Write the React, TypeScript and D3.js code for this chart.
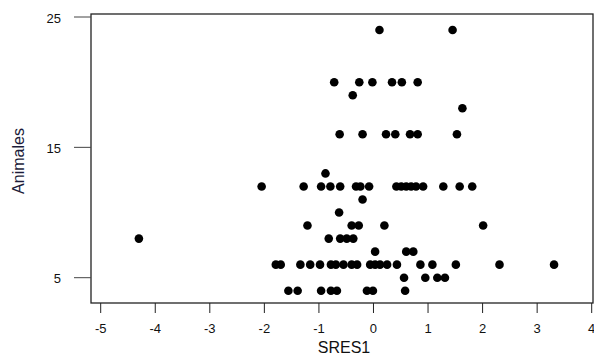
import React from "react";
import * as d3 from "d3";

// Standardised residuals (SRES1) grouped by count of animals
const animales: number[] = [
  24, 24,
  20, 20, 20, 20, 20, 20,
  19,
  18,
  16, 16, 16, 16, 16, 16, 16,
  13,
  12, 12, 12, 12, 12, 12, 12, 12, 12, 12, 12, 12, 12, 12, 12, 12, 12,
  11,
  10,
  9, 9, 9, 9, 9,
  8, 8, 8, 8, 8,
  7, 7, 7,
  6, 6, 6, 6, 6, 6, 6, 6, 6, 6, 6, 6, 6, 6, 6, 6, 6, 6, 6, 6,
  5, 5, 5, 5,
  4, 4, 4, 4, 4, 4, 4, 4,
];

const sres1: number[] = [
  0.11, 1.45,
  -0.72, -0.26, -0.02, 0.34, 0.52, 0.81,
  -0.38,
  1.63,
  -0.62, -0.2, 0.23, 0.4, 0.67, 0.81, 1.53,
  -0.88,
  -2.05, -1.28, -0.96, -0.79, -0.61, -0.32, -0.24, -0.08, 0.42, 0.51, 0.6, 0.69, 0.78, 0.91, 1.28, 1.58, 1.81,
  -0.2,
  -0.63,
  -1.21, -0.4, -0.27, 0.2, 2.01,
  -4.3, -0.82, -0.61, -0.49, -0.37,
  0.03, 0.6, 0.73,
  -1.79, -1.7, -1.34, -1.16, -0.98, -0.78, -0.69, -0.55, -0.4, -0.3, -0.06, 0.03, 0.12, 0.25, 0.43, 0.86, 1.08, 1.51, 2.31, 3.31,
  0.56, 0.95, 1.17, 1.31,
  -1.56, -1.39, -0.96, -0.78, -0.67, -0.12, -0.01, 0.58,
];

const xTicks: number[] = [-5, -4, -3, -2, -1, 0, 1, 2, 3, 4];
const yTicks: number[] = [5, 15, 25];

const W = 594;
const H = 362;
const frame = { left: 91, top: 14, right: 593, bottom: 303 };

export default function App() {
  const x = d3.scaleLinear().domain([-5, 4]).range([100.7, 591.7]);
  const y = d3.scaleLinear().domain([5, 25]).range([277.7, 17]);
  const font = "Liberation Sans, Arial, sans-serif";

  return (
    <svg
      width={W}
      height={H}
      style={{ position: "absolute", left: 0, top: 0, background: "#fff" }}
    >
      <rect
        x={frame.left}
        y={frame.top}
        width={frame.right - frame.left}
        height={frame.bottom - frame.top}
        fill="none"
        stroke="#222"
        strokeWidth={1.3}
      />

      {/* x axis */}
      {xTicks.map((t) => (
        <g key={"x" + t}>
          <line
            x1={x(t)}
            x2={x(t)}
            y1={frame.bottom}
            y2={frame.bottom + 10}
            stroke="#222"
            strokeWidth={1}
          />
          <text
            x={x(t)}
            y={333}
            textAnchor="middle"
            fontFamily={font}
            fontSize={13}
            fill="#111"
          >
            {t}
          </text>
        </g>
      ))}
      <text
        x={(frame.left + frame.right) / 2 + 2}
        y={353}
        textAnchor="middle"
        fontFamily={font}
        fontSize={16}
        fill="#111"
      >
        SRES1
      </text>

      {/* y axis */}
      {yTicks.map((t) => (
        <g key={"y" + t}>
          <line
            x1={74}
            x2={frame.left}
            y1={y(t)}
            y2={y(t)}
            stroke="#444"
            strokeWidth={1}
          />
          <text
            x={61}
            y={y(t) + 1}
            dy="0.36em"
            textAnchor="end"
            fontFamily={font}
            fontSize={13}
            fill="#111"
          >
            {t}
          </text>
        </g>
      ))}
      <text
        transform={`translate(24,161) rotate(-90)`}
        textAnchor="middle"
        fontFamily={font}
        fontSize={16}
        fill="#1c1c3a"
      >
        Animales
      </text>

      {/* points */}
      {sres1.map((v, i) => (
        <circle key={i} cx={x(v)} cy={y(animales[i])} r={4.3} fill="#000" />
      ))}
    </svg>
  );
}
